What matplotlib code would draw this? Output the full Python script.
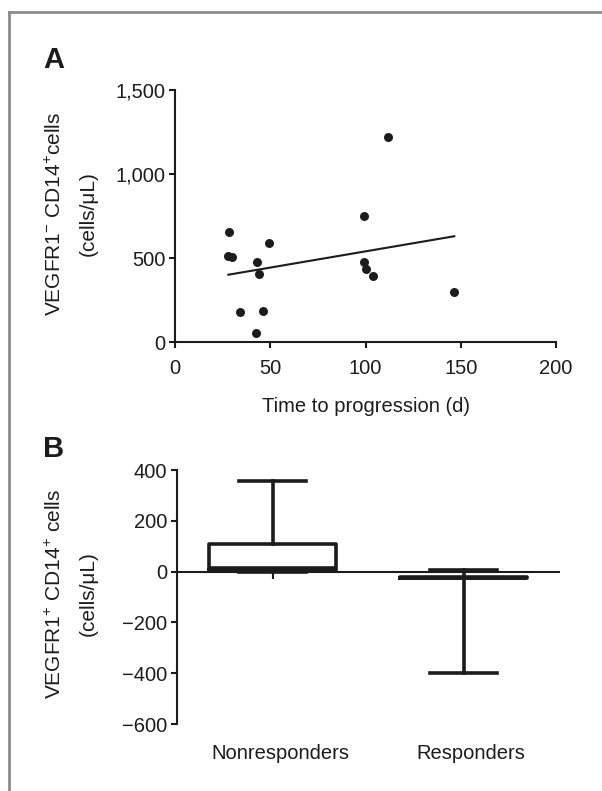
import numpy as np
import matplotlib.pyplot as plt
from matplotlib.lines import Line2D


# DATA
# panel A: time to progression vs VEGFR1- CD14+ cells
ttp_days = [28.3, 28.0, 30.0, 34.1, 43.2, 44.1, 46.4, 42.3, 49.2,
            99.0, 99.2, 100.1, 104.1, 112.0, 146.6]
vegfr1_neg = [657, 512, 505, 181, 478, 403, 184, 56, 587,
              752, 478, 434, 391, 1222, 300]
x_ticks_a = [0, 50, 100, 150, 200]
y_ticks_a = [0, 500, 1000, 1500]
y_ticklabels_a = ["0", "500", "1,000", "1,500"]

# panel B: VEGFR1+ CD14+ cells, box summary per group
groups = ["Nonresponders", "Responders"]
whisk_lo = [0, -400]
q1 = [5, -26]
med = [14, -24]
q3 = [108, -22]
whisk_hi = [355, 8]
y_ticks_b = [-600, -400, -200, 0, 200, 400]


plt.rcParams["font.family"] = ["Liberation Sans", "DejaVu Sans"]
plt.rcParams["mathtext.fontset"] = "custom"
plt.rcParams["mathtext.rm"] = "Liberation Sans"
plt.rcParams["mathtext.it"] = "Liberation Sans:italic"
plt.rcParams["mathtext.bf"] = "Liberation Sans:bold"

FS = 14.5
INK = "#1c1c1c"
W, H = 602, 791

fig = plt.figure(figsize=(W / 100, H / 100), dpi=100)

# gray frame (top and left edges only are visible)
fig.add_artist(Line2D([9 / W, 1.0], [1 - 12 / H, 1 - 12 / H],
                      transform=fig.transFigure, color="#8c8c8c", lw=2))
fig.add_artist(Line2D([9 / W, 9 / W], [0.0, 1 - 12 / H],
                      transform=fig.transFigure, color="#8c8c8c", lw=2))


# PANEL A
ax1 = fig.add_axes([175 / W, 1 - 342 / H, 381 / W, 252 / H])
ax1.scatter(ttp_days, vegfr1_neg, s=42, color=INK, zorder=3, clip_on=False,
            linewidths=0)

slope, icpt = np.polyfit(ttp_days, vegfr1_neg, 1)
xfit = np.array([min(ttp_days), max(ttp_days)])
ax1.plot(xfit, slope * xfit + icpt, color=INK, lw=1.5)

ax1.set_xlim(0, 200)
ax1.set_ylim(0, 1500)
ax1.set_xticks(x_ticks_a)
ax1.set_yticks(y_ticks_a)
ax1.set_yticklabels(y_ticklabels_a)
for side in ["top", "right"]:
    ax1.spines[side].set_visible(False)
for side in ["left", "bottom"]:
    ax1.spines[side].set_linewidth(1.5)
    ax1.spines[side].set_color(INK)
ax1.tick_params(direction="out", length=4, width=1.5, colors=INK,
                labelsize=FS, pad=3)
ax1.tick_params(axis="x", pad=8)
ax1.set_xlabel("Time to progression (d)", fontsize=FS, color=INK,
               labelpad=14)

fig.text(43 / W, 1 - 60 / H, "A", fontsize=21, fontweight="bold",
         va="center", ha="left", color=INK)
fig.text(55 / W, 1 - 214 / H, r"VEGFR1$^{-}$ CD14$^{+}$cells", rotation=90,
         fontsize=15, va="center", ha="center", color=INK)
fig.text(88 / W, 1 - 214 / H, "(cells/\u03bcL)", rotation=90,
         fontsize=15, va="center", ha="center", color=INK)


# PANEL B
ax2 = fig.add_axes([177 / W, 1 - 724 / H, 382 / W, 254 / H])
stats = []
for i, g in enumerate(groups):
    stats.append({"label": g, "whislo": whisk_lo[i], "q1": q1[i],
                  "med": med[i], "q3": q3[i], "whishi": whisk_hi[i],
                  "fliers": []})
line_kw = dict(color=INK, lw=2.6)
ax2.bxp(stats, positions=[1, 2], widths=0.67, capwidths=0.35,
        showfliers=False, boxprops=line_kw, whiskerprops=line_kw,
        capprops=line_kw, medianprops=line_kw)

ax2.set_xlim(0.5, 2.5)
ax2.set_ylim(-600, 400)
ax2.set_yticks(y_ticks_b)
ax2.set_xticks([1, 2])
ax2.set_xticklabels(["", ""])
for side in ["top", "right"]:
    ax2.spines[side].set_visible(False)
ax2.spines["bottom"].set_position(("data", 0))
for side in ["left", "bottom"]:
    ax2.spines[side].set_linewidth(1.5)
    ax2.spines[side].set_color(INK)
ax2.tick_params(direction="out", length=4, width=1.5, colors=INK,
                labelsize=FS, pad=3)
ax2.tick_params(axis="x", length=5)
for i, g in enumerate(groups):
    ax2.text(i + 1 + 0.04, -0.115, g, transform=ax2.get_xaxis_transform(),
             ha="center", va="center", fontsize=FS, color=INK)

fig.text(43 / W, 1 - 449 / H, "B", fontsize=21, fontweight="bold",
         va="center", ha="left", color=INK)
fig.text(55 / W, 1 - 594 / H, r"VEGFR1$^{+}$ CD14$^{+}$ cells", rotation=90,
         fontsize=15, va="center", ha="center", color=INK)
fig.text(88 / W, 1 - 594 / H, "(cells/\u03bcL)", rotation=90,
         fontsize=15, va="center", ha="center", color=INK)

fig.savefig("out.png", dpi=100)
